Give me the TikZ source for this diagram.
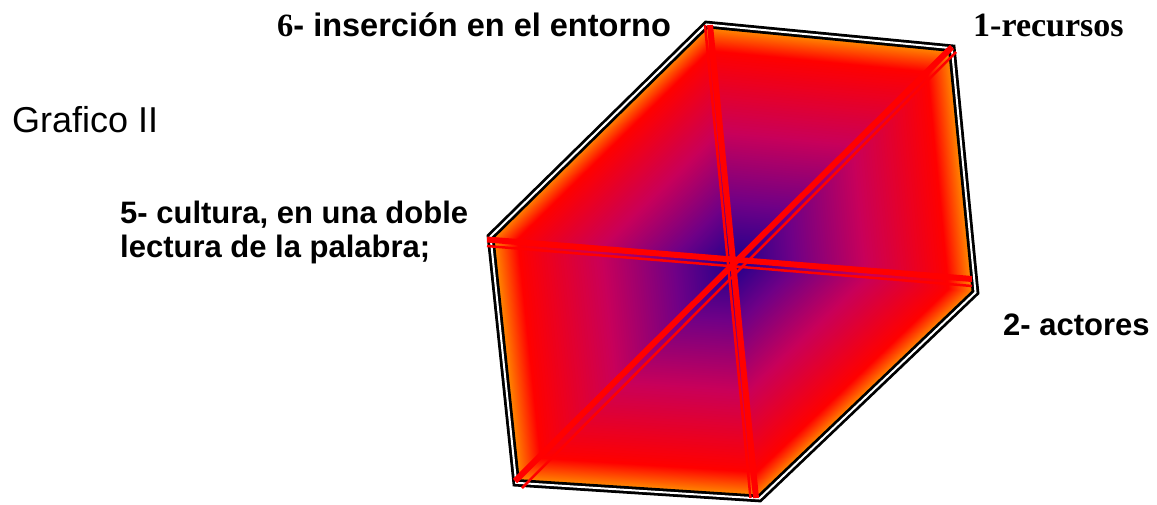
\documentclass[tikz,border=0pt]{standalone}
\usepackage{fontspec}
\setmainfont{Liberation Sans}
\newfontfamily\serifb{Liberation Serif}
\usetikzlibrary{calc}
\definecolor{corange}{RGB}{255,150,0}
\definecolor{cred}{RGB}{255,0,0}
\definecolor{cmag}{RGB}{200,0,90}
\definecolor{cpur}{RGB}{110,0,135}
\definecolor{cnavy}{RGB}{30,0,140}
\definecolor{spokered}{RGB}{255,0,0}
\tikzset{
  outline/.style={draw=black, double=white, double distance=2pt, line width=2.8pt, line join=miter},
  spokethick/.style={draw=spokered, line width=6pt},
  spokethin/.style={draw=spokered, line width=2.5pt},
  lbl/.style={anchor=base west, inner sep=0pt, font=\fontsize{31}{34}\selectfont\bfseries},
  title/.style={anchor=base west, inner sep=0pt, font=\fontsize{36}{40}\selectfont}
}
\begin{document}
\begin{tikzpicture}[x=1pt,y=-1pt]
\useasboundingbox (0,0) rectangle (1157,504);
\coordinate (C) at (735,262);
\coordinate (V6) at (706.5,24.5);
\coordinate (V1) at (951.8,48.2);
\coordinate (V2) at (975.5,292.4);
\coordinate (V3) at (759.5,498.5);
\coordinate (V4) at (516.2,482.8);
\coordinate (V5) at (490.5,236.5);
% gradient fill following the hexagon
\foreach \a/\b/\ca/\cb in {1.0/0.89/corange/cred, 0.89/0.55/cred/cmag, 0.55/0.25/cmag/cpur, 0.25/0.0/cpur/cnavy}{
  \foreach \k in {0,...,29}{
    \pgfmathsetmacro\sc{\a-(\a-\b)*\k/30}
    \pgfmathsetmacro\pc{100-100*\k/30}
    \fill[\ca!\pc!\cb] ($(C)!\sc!(V6)$) -- ($(C)!\sc!(V1)$) -- ($(C)!\sc!(V2)$) -- ($(C)!\sc!(V3)$) -- ($(C)!\sc!(V4)$) -- ($(C)!\sc!(V5)$) -- cycle;
  }
}
\draw[outline] (V6) -- (V1) -- (V2) -- (V3) -- (V4) -- (V5) -- cycle;
% spokes
\coordinate (s6a) at (710,25);   \coordinate (s3a) at (756,498);
\coordinate (s6b) at (705,25);   \coordinate (s3b) at (750.5,498);
\coordinate (s1a) at (952,47);   \coordinate (s4a) at (515,481);
\coordinate (s1b) at (956,52);   \coordinate (s4b) at (522,488);
\coordinate (s5a) at (487,239.5); \coordinate (s2a) at (972,279);
\coordinate (s5b) at (487,246);   \coordinate (s2b) at (972,286);
\draw[spokethick] (s6a) -- (s3a);
\draw[spokethin] (s6b) -- (s3b);
\draw[spokethick] (s1a) -- (s4a);
\draw[spokethin] (s1b) -- (s4b);
\draw[spokethick] (s5a) -- (s2a);
\draw[spokethin] (s5b) -- (s2b);
% labels
\node[title] (tit) at (12,132) {Grafico II};
\node[lbl] (l5a) at (120,223) {5- cultura, en una doble};
\node[lbl] (l5b) at (120,257) {lectura de la palabra;};
\node[lbl] (l2) at (1003,335) {2- actores};
\node[lbl, font=\fontsize{32.5}{36}\selectfont\bfseries] (l6) at (277,36) {{\serifb 6}- inserción en el entorno};
\node[lbl, font=\fontsize{34}{36}\selectfont\bfseries] (l1) at (973,36) {\serifb 1-recursos};
\end{tikzpicture}
\end{document}
